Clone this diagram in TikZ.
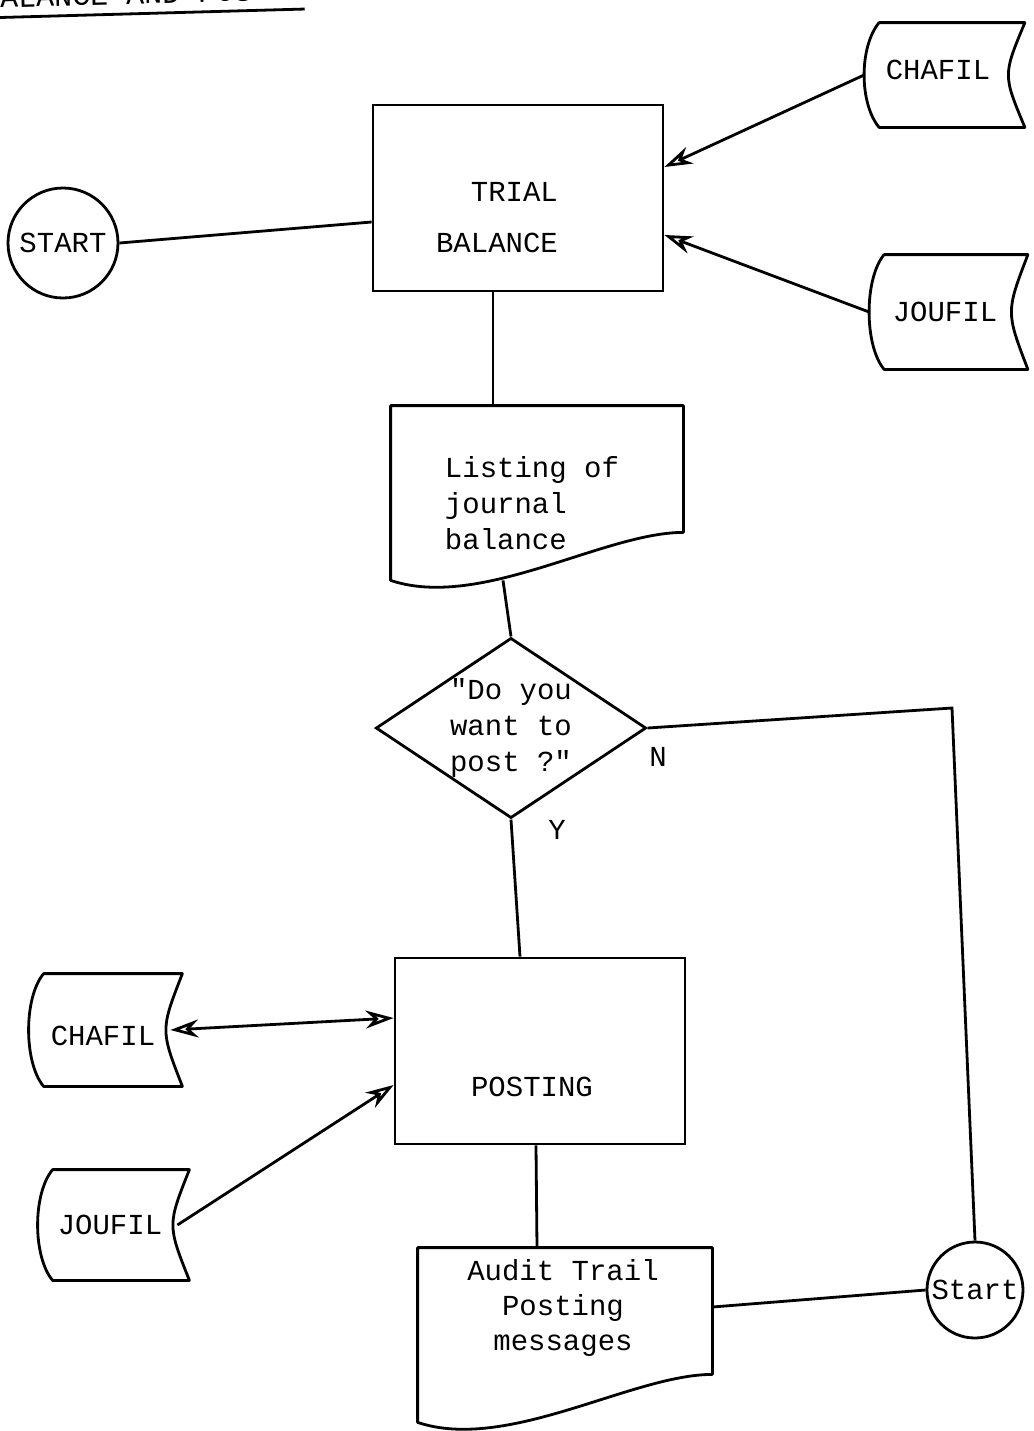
\documentclass[tikz,border=0pt]{standalone}
\usepackage{fontspec}
\newfontfamily\typefont{Liberation Mono}
\usetikzlibrary{shapes.geometric, arrows.meta, positioning}
\tikzset{
  Line/.style = {draw, line width=1.4pt},
  Arrow1/.style = {
    Line,
    -{Stealth[open, length=14pt, width=9pt]},
  },
  Arrow2/.style = {
    Line,
    {Stealth[open, length=14pt, width=9pt]}-{Stealth[open, length=14pt, width=9pt]},
  },
  txt/.style = {font=\typefont\fontsize{14.5}{18}\selectfont, inner sep=0pt},
  procbox/.style = {txt, draw, line width=1.4pt, minimum width=145pt, minimum height=93pt},
  termbox/.style = {txt, draw, circle, line width=1.4pt},
  decbox/.style = {txt, draw, diamond, shape aspect=1.5, line width=1.4pt, align=center},
  filebox/.style = {txt, minimum width=70pt, minimum height=55pt},
  docbox/.style = {txt, minimum width=146pt, minimum height=87pt},
}
\newcommand\fileoutline[1]{%
  \draw[Line, line join=round] (#1.north west)
    .. controls ([xshift=-10pt, yshift=-12pt]#1.north west) and ([xshift=-10pt, yshift=12pt]#1.south west) .. (#1.south west)
    -- (#1.south east) .. controls ([xshift=-11pt]#1.east) .. (#1.north east) -- cycle;}
\newcommand\docoutline[1]{%
  \draw[Line, line join=round] (#1.north west) -- (#1.north east) -- ([yshift=24pt]#1.south east)
    .. controls ([xshift=-40pt, yshift=24pt]#1.south east) and ([xshift=45pt, yshift=-15pt]#1.south west)
    .. (#1.south west) -- cycle;}

\begin{document}
\begin{tikzpicture}[x=0.5pt, y=-0.5pt]
  \useasboundingbox (0,0) rectangle (1034,1431);
  \clip (0,0) rectangle (1034,1431);

  % heading, cut by the top edge
  \node[txt, font=\typefont\fontsize{15}{18}\selectfont, anchor=base west, rotate=1.5] (title) at (-18,8) {BALANCE AND POSTING};
  \draw[Line] ([yshift=-5pt]title.base west) -- ([yshift=-5pt, xshift=-10pt]title.base east);

  % trial balance
  \node[termbox, minimum size=55pt] (start1) at (63,243) {START};
  \node[procbox, label={[txt, align=right, font=\typefont\fontsize{14.5}{25.5}\selectfont, xshift=-10.5pt, yshift=-10pt]center:{TRIAL\\BALANCE}}] (trial) at (518,198) {};
  \node[filebox, minimum width=72.5pt, minimum height=52pt, label={[txt, xshift=-7pt, yshift=2.5pt]center:CHAFIL}] (chafil1) at (952,75) {};
  \node[filebox, minimum width=71.5pt, minimum height=57pt, label={[txt, xshift=-5.5pt]center:JOUFIL}] (joufil1) at (956,312) {};
  \fileoutline{chafil1}
  \fileoutline{joufil1}
  \node[docbox, label={[txt, align=left, xshift=-2.5pt, yshift=-5pt]center:{Listing of\\journal\\balance}}] (listing) at (537,493) {};
  \docoutline{listing}

  % question
  \node[decbox] (ask) at (511,728) {"Do you\\want to\\post ?"};
  \node[txt] (ylab) at (557,830) {Y};
  \node[txt] (nlab) at (658,757) {N};
  \coordinate (ncorner) at (952,708);

  % posting
  \node[procbox, label={[txt, xshift=-4pt, yshift=-18pt]center:POSTING}] (posting) at (540,1051) {};
  \node[filebox, minimum width=69pt, minimum height=56pt, label={[txt, xshift=-5pt, yshift=-3pt]center:CHAFIL}] (chafil2) at (113,1030) {};
  \node[filebox, minimum width=68pt, minimum height=55pt, label={[txt, xshift=-5.5pt]center:JOUFIL}] (joufil2) at (121,1225) {};
  \fileoutline{chafil2}
  \fileoutline{joufil2}
  \node[docbox, minimum width=147pt, label={[txt, align=center, font=\typefont\fontsize{14.5}{17.5}\selectfont, xshift=-1pt, yshift=13.5pt]center:{Audit Trail\\Posting\\messages}}] (audit) at (565,1335) {};
  \docoutline{audit}
  \node[termbox, minimum size=48pt] (start2) at (975,1290) {Start};

  % connectors
  \draw[Line] (start1.east) -- ([yshift=-12pt]trial.west);
  \draw[Arrow1] ([xshift=-7.5pt]chafil1.west) -- ([yshift=15.5pt]trial.east);
  \draw[Arrow1] ([xshift=-7.5pt]joufil1.west) -- ([yshift=-18.5pt]trial.east);
  \draw[Line] ([xshift=-12.5pt]trial.south) -- ([xshift=-22pt]listing.north);
  \draw[Line] ([xshift=-17pt]listing.south) -- (ask.north);
  \draw[Line] (ask.east) -- (ncorner) -- (start2.north);
  \draw[Line] (ask.south) -- ([xshift=-10pt]posting.north);
  \draw[Arrow2] ([xshift=-6pt]chafil2.east) -- ([yshift=16.5pt]posting.west);
  \draw[Arrow1] ([xshift=-6pt]joufil2.east) -- ([yshift=-17pt]posting.west);
  \draw[Line] ([xshift=-2pt]posting.south) -- ([xshift=-14pt]audit.north);
  \draw[Line] ([yshift=14pt]audit.east) -- (start2.west);
\end{tikzpicture}
\end{document}
